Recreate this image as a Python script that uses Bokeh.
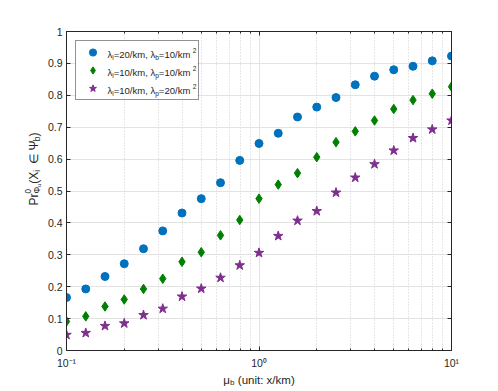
import math
from bokeh.plotting import figure
from bokeh.layouts import row, column
from bokeh.models import (FixedTicker, LogAxis, LinearAxis, CustomJSTickFormatter,
                          Legend, LegendItem, Label, Range1d, BoxAnnotation)
from bokeh.core.properties import value
from bokeh.embed import file_html
from bokeh.resources import INLINE

# ---------------- data ----------------
mu_b = [0.1, 0.1259, 0.1585, 0.1995, 0.2512, 0.3162, 0.3981, 0.5012, 0.6310, 0.7943,
        1.0, 1.2589, 1.5849, 1.9953, 2.5119, 3.1623, 3.9811, 5.0119, 6.3096, 7.9433, 10.0]
p_l20_b10 = [0.166, 0.193, 0.232, 0.272, 0.319, 0.375, 0.431, 0.476, 0.526, 0.596,
             0.649, 0.681, 0.732, 0.763, 0.793, 0.833, 0.860, 0.880, 0.891, 0.908, 0.923]
p_l10_p10 = [0.091, 0.107, 0.138, 0.160, 0.193, 0.225, 0.278, 0.308, 0.361, 0.409,
             0.476, 0.520, 0.556, 0.606, 0.653, 0.687, 0.721, 0.757, 0.785, 0.805, 0.827]
p_l10_p20 = [0.049, 0.055, 0.077, 0.085, 0.111, 0.131, 0.169, 0.194, 0.228, 0.267,
             0.306, 0.359, 0.407, 0.437, 0.495, 0.542, 0.584, 0.627, 0.666, 0.693, 0.721]

x_major_ticks = [0.1, 1, 10]
x_minor_ticks = [0.2, 0.3, 0.4, 0.5, 0.6, 0.7, 0.8, 0.9, 2, 3, 4, 5, 6, 7, 8, 9]
y_ticks = [0, 0.1, 0.2, 0.3, 0.4, 0.5, 0.6, 0.7, 0.8, 0.9, 1.0]

# rich-text pieces: (text, kind)
legend_texts = [
    [("λ", "n"), ("l", "sub"), ("=20/km, λ", "n"), ("b", "sub"), ("=10/km", "n"), (0.25, "gap"), ("2", "sup")],
    [("λ", "n"), ("l", "sub"), ("=10/km, λ", "n"), ("p", "sub"), ("=10/km", "n"), (0.25, "gap"), ("2", "sup")],
    [("λ", "n"), ("l", "sub"), ("=10/km, λ", "n"), ("p", "sub"), ("=20/km", "n"), (0.25, "gap"), ("2", "sup")],
]
xlabel_parts = [("μ", "n"), ("b", "sub"), (0.3, "gap"), ("(unit: x/km)", "n")]
ylabel_parts = [("Pr", "n"), ("0", "supstay"), ("Φ", "sub"), ("u", "subsub"), ("(X", "n"), ("i", "sub"),
                (0.45, "gap"), ("∈", "n"), (0.45, "gap"), ("Ψ", "n"), ("b", "sub"), (")", "n")]

# ---------------- style ----------------
FONT = "Liberation Sans"
AX = "#262626"
GRID = "#e3e3e3"
C_BLUE, C_GREEN, C_PURPLE = "#0072BD", "#008000", "#7E2F8E"
TOTAL_W, TOTAL_H = 498, 391
YSTRIP = 44              # width of the strip holding the y-axis title
FW, FH = 385, 319
BL, BT, BR, BB = 66 - YSTRIP, 31, 47, 22
MAIN_H = BT + FH + BB

W = {' ': 0.278, '=': 0.584, '/': 0.278, ',': 0.278, '.': 0.278, ':': 0.278, '(': 0.333,
     ')': 0.333, 'k': 0.5, 'm': 0.833, 'l': 0.222, 'b': 0.556, 'p': 0.556, 'u': 0.556,
     'n': 0.556, 'i': 0.222, 't': 0.278, 'x': 0.5, 'P': 0.667, 'r': 0.333, 'X': 0.667,
     'λ': 0.5, 'μ': 0.577, 'Φ': 0.76, 'Ψ': 0.78, '∈': 0.71}


def twidth(s):
    return sum(W.get(c, 0.556) for c in s)


KIND = {"n": (1.0, 0.0), "sub": (0.7, -0.28), "sup": (0.7, 0.42), "supstay": (0.7, 0.42),
        "subsub": (0.5, -0.45)}


def rich_width(parts, fs):
    tot = 0.0
    for t, k in parts:
        if k == "gap":
            tot += t * fs
        elif k != "supstay":
            tot += twidth(t) * KIND[k][0] * fs
    return tot


def add_rich(fig, parts, x0, y0, fs, angle=0.0, color=AX, level="overlay"):
    ca, sa = math.cos(angle), math.sin(angle)
    pos = 0.0
    for t, k in parts:
        if k == "gap":
            pos += t * fs
            continue
        sc, sh = KIND[k]
        size = sc * fs
        shift = sh * fs
        x = x0 + pos * ca - shift * sa
        y = y0 + pos * sa + shift * ca
        fig.add_layout(Label(x=x, y=y, x_units="screen", y_units="screen", text=t, angle=angle,
                             text_font=FONT, text_font_size=f"{size:.2f}px", level=level,
                             text_baseline="alphabetic", text_align="left", text_color=color))
        if k != "supstay":
            pos += twidth(t) * size


def blank_fig(w, h):
    f = figure(width=w, height=h, x_range=Range1d(0, 1), y_range=Range1d(0, 1),
               x_axis_location=None, y_axis_location=None,
               min_border_left=0, min_border_right=0, min_border_top=0, min_border_bottom=0,
               output_backend="svg", toolbar_location=None,
               background_fill_color="white", border_fill_color="white")
    f.outline_line_color = None
    f.grid.visible = False
    return f


# ---------------- main plot ----------------
p = figure(x_axis_type="log", x_range=(0.1, 10), y_range=(0, 1),
           frame_width=FW, frame_height=FH,
           min_border_left=BL, min_border_top=BT, min_border_right=BR, min_border_bottom=BB,
           output_backend="svg", toolbar_location=None,
           background_fill_color="white", border_fill_color="white")

p.outline_line_color = AX
p.outline_line_width = 1

xt = FixedTicker(ticks=x_major_ticks, minor_ticks=x_minor_ticks)
yt = FixedTicker(ticks=y_ticks, minor_ticks=[])
xfmt = CustomJSTickFormatter(code="""
const sup = {'-':'\u207b','0':'\u2070','1':'\u00b9','2':'\u00b2','3':'\u00b3','4':'\u2074',
             '5':'\u2075','6':'\u2076','7':'\u2077','8':'\u2078','9':'\u2079'};
const e = Math.round(Math.log10(tick));
return '10' + String(e).split('').map(c => sup[c]).join('');
""")
yfmt = CustomJSTickFormatter(code="return (tick === 0 || tick === 1) ? tick.toFixed(0) : tick.toFixed(1);")


def style_axis(ax, show_labels, minor):
    ax.axis_line_color = AX
    ax.axis_line_width = 1
    ax.major_tick_in = 4
    ax.major_tick_out = 0
    ax.major_tick_line_color = AX
    ax.minor_tick_in = 2 if minor else 0
    ax.minor_tick_out = 0
    ax.minor_tick_line_color = AX if minor else None
    ax.major_label_text_font = FONT
    ax.major_label_text_font_size = "10.5px"
    ax.major_label_text_color = AX
    if not show_labels:
        ax.major_label_text_alpha = 0
        ax.major_label_text_font_size = "1px"


p.xaxis.ticker = xt
p.xaxis.formatter = xfmt
p.xaxis.major_label_standoff = 6
style_axis(p.xaxis[0], True, True)
p.yaxis.ticker = yt
p.yaxis.formatter = yfmt
p.yaxis.major_label_standoff = 4
style_axis(p.yaxis[0], True, False)

top_ax = LogAxis(ticker=xt, formatter=xfmt)
style_axis(top_ax, False, True)
p.add_layout(top_ax, "above")
right_ax = LinearAxis(ticker=yt, formatter=yfmt)
style_axis(right_ax, False, False)
p.add_layout(right_ax, "right")

p.xgrid.ticker = xt
p.ygrid.ticker = yt
p.xgrid.grid_line_color = GRID
p.ygrid.grid_line_color = GRID
p.xgrid.minor_grid_line_color = "#cfcfcf"
p.xgrid.minor_grid_line_dash = "1 2"
p.ygrid.minor_grid_line_color = None

r1 = p.scatter(mu_b, p_l20_b10, marker="circle", size=8, fill_color=C_BLUE, line_color=C_BLUE)
r2 = p.scatter(mu_b, p_l10_p10, marker="diamond", size=9.5, fill_color=C_GREEN, line_color=C_GREEN)
r3 = p.scatter(mu_b, p_l10_p20, marker="star", size=10, fill_color=C_PURPLE, line_color=C_PURPLE)

# legend: white panel underneath, transparent legend (markers + border), rich texts on top
LG_MARGIN, LG_PAD, LG_GW, LG_ROW, LG_STAND, LG_LW = 9, 2, 29, 18, 1, 88
LG_W = 2 * LG_PAD + LG_GW + LG_STAND + LG_LW
LG_H = 2 * LG_PAD + 3 * LG_ROW
p.add_layout(BoxAnnotation(left=LG_MARGIN, right=LG_MARGIN + LG_W,
                           top=FH - LG_MARGIN, bottom=FH - LG_MARGIN - LG_H,
                           left_units="screen", right_units="screen",
                           top_units="screen", bottom_units="screen",
                           fill_color="white", fill_alpha=1, line_color=None, level="annotation"))
legend = Legend(items=[LegendItem(label=value(" "), renderers=[r]) for r in (r1, r2, r3)],
                location="top_left", margin=LG_MARGIN, padding=LG_PAD, spacing=0,
                glyph_width=LG_GW, glyph_height=LG_ROW, label_height=LG_ROW,
                label_width=LG_LW, label_standoff=LG_STAND,
                border_line_color=AX, border_line_width=1,
                background_fill_alpha=0,
                label_text_font_size="1px")
p.add_layout(legend)

LFS = 9.5
tx = LG_MARGIN + LG_PAD + LG_GW + LG_STAND
for i, parts in enumerate(legend_texts):
    cy = FH - LG_MARGIN - LG_PAD - LG_ROW / 2 - LG_ROW * i
    add_rich(p, parts, tx, cy - 0.35 * LFS, LFS)

# ---------------- axis titles (in side strips) ----------------
AFS = 11.5
YFS = 12
yfig = blank_fig(YSTRIP, MAIN_H)
wy = rich_width(ylabel_parts, YFS)
frame_mid_from_bottom = BB + FH / 2
add_rich(yfig, ylabel_parts, 33, frame_mid_from_bottom - wy / 2, YFS, angle=math.pi / 2)

xfig = blank_fig(TOTAL_W, TOTAL_H - MAIN_H)
wx = rich_width(xlabel_parts, AFS)
add_rich(xfig, xlabel_parts, 66 + FW / 2 - wx / 2, 12, AFS)

layout = column(row(yfig, p, spacing=0), xfig, spacing=0)
open("out.html", "w").write(file_html(layout, INLINE))
